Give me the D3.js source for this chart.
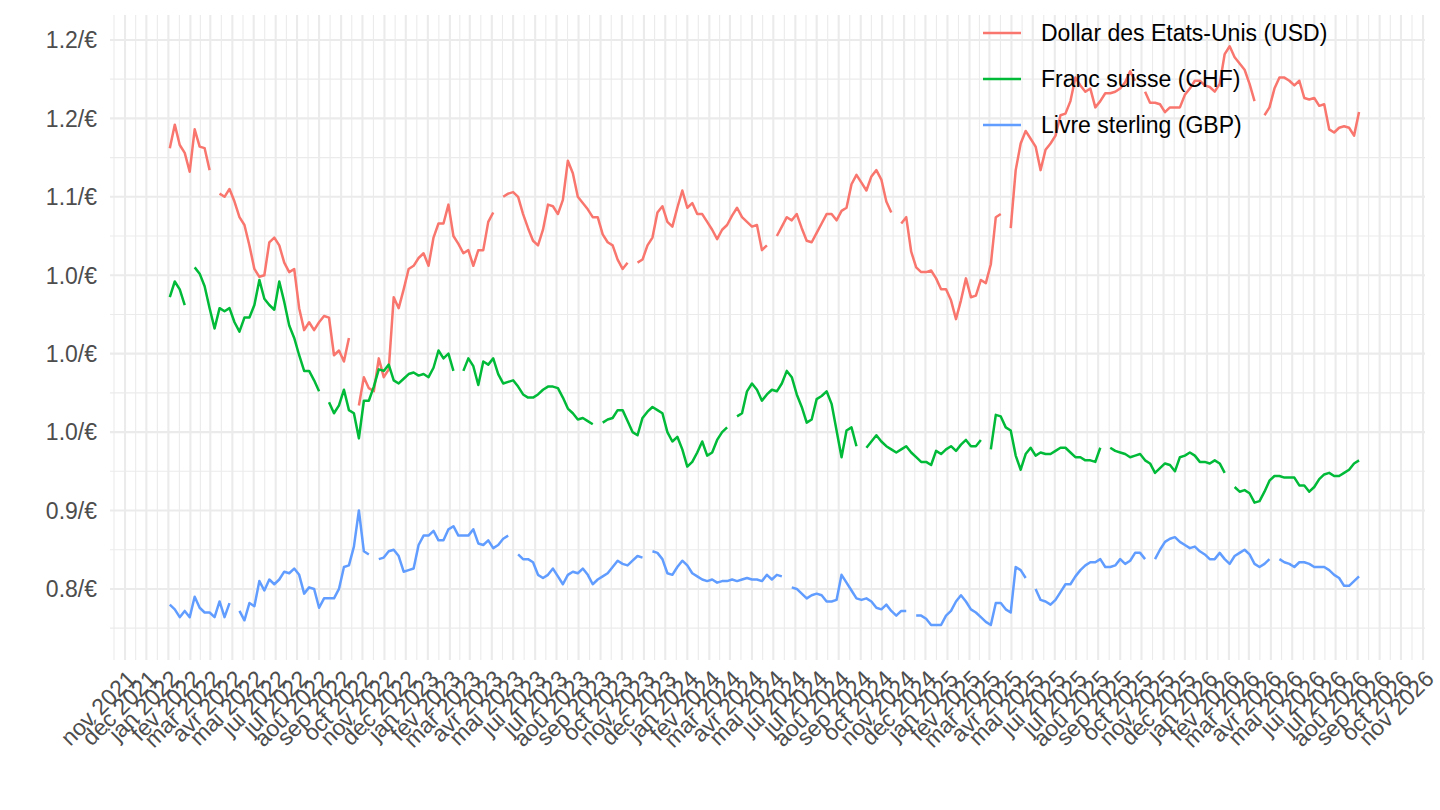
<!DOCTYPE html>
<html><head><meta charset="utf-8">
<script src="https://cdn.jsdelivr.net/npm/d3@7"></script>
<style>body{margin:0;background:#fff} svg{display:block}</style>
</head><body>
<svg id="chart" width="1440" height="810"></svg>
<script>
const seriesNames = ["Dollar des Etats-Unis (USD)", "Franc suisse (CHF)", "Livre sterling (GBP)"];
const seriesColors = ["#F8766D", "#00BA38", "#619CFF"];
const monthAbbr = ["jan","fév","mar","avr","mai","jui","jul","aoû","sep","oct","nov","déc"];
const yTicks = [0.85, 0.90, 0.95, 1.00, 1.05, 1.10, 1.15, 1.20];
const yTickLabels = ["0.8/€","0.9/€","1.0/€","1.0/€","1.0/€","1.1/€","1.2/€","1.2/€"];
const yDomain = [0.8047, 1.2159];
const xDomain = [new Date(2021, 9, 10, 21), new Date(2026, 10, 3, 19)];
const firstWeek = new Date(2022, 0, 3);

// weekly values (one per Monday from 3 Jan 2022), null = no quotation
const usd = [
1.131,1.146,1.133,1.128,1.116,1.143,1.132,1.131,1.117,null,
1.102,1.100,1.105,1.097,1.087,1.082,1.069,1.054,1.049,1.050,
1.071,1.074,1.069,1.058,1.052,1.054,1.029,1.015,1.020,1.015,
1.020,1.024,1.023,0.999,1.002,0.995,1.010,null,0.967,0.985,
0.978,0.976,0.997,0.985,0.990,1.036,1.029,1.041,1.054,1.056,
1.061,1.064,1.056,1.074,1.083,1.083,1.095,1.075,1.070,1.064,
1.066,1.056,1.066,1.066,1.084,1.090,null,1.100,1.102,1.103,
1.100,1.089,1.080,1.072,1.069,1.079,1.095,1.094,1.089,1.098,
1.123,1.115,1.100,1.096,1.092,1.087,1.087,1.076,1.071,1.069,
1.060,1.054,1.058,null,1.058,1.060,1.069,1.074,1.090,1.094,
1.084,1.081,1.093,1.104,1.093,1.096,1.089,1.089,1.084,1.079,
1.073,1.079,1.082,1.088,1.093,1.087,1.084,1.081,1.082,1.066,
1.069,null,1.075,1.081,1.087,1.085,1.089,1.080,1.072,1.071,
1.077,1.083,1.089,1.089,1.085,1.091,1.093,1.108,1.114,1.109,
1.104,1.113,1.117,1.111,1.097,1.090,null,1.083,1.087,1.065,
1.055,1.052,1.052,1.053,1.048,1.041,1.041,1.034,1.022,1.034,
1.048,1.036,1.037,1.047,1.045,1.057,1.087,1.089,null,1.080,
1.117,1.134,1.142,1.137,1.132,1.117,1.130,1.134,1.139,1.152,
1.153,1.161,1.176,1.171,1.167,1.169,1.157,1.161,1.166,1.166,
1.167,1.169,1.173,1.180,1.174,null,1.167,1.160,1.160,1.159,
1.154,1.157,1.157,1.157,1.165,1.169,1.174,1.174,1.171,1.170,
1.167,1.172,1.191,1.196,1.189,1.185,1.181,1.172,1.161,null,
1.152,1.157,1.169,1.176,1.176,1.174,1.171,1.174,1.163,1.162,
1.163,1.158,1.159,1.143,1.141,1.144,1.145,1.144,1.139,1.154
];
const chf = [
1.036,1.046,1.041,1.031,null,1.055,1.051,1.043,1.029,1.016,
1.029,1.027,1.029,1.020,1.014,1.023,1.023,1.031,1.047,1.035,
1.031,1.028,1.046,1.033,1.018,1.010,0.999,0.989,0.989,0.983,
0.976,null,0.969,0.962,0.967,0.977,0.964,0.962,0.946,0.970,
0.970,0.979,0.990,0.989,0.993,0.983,0.981,0.984,0.987,0.988,
0.986,0.987,0.985,0.991,1.002,0.997,1.000,0.989,null,0.989,
0.997,0.992,0.980,0.995,0.993,0.997,0.987,0.981,0.982,0.983,
0.979,0.974,0.972,0.972,0.974,0.977,0.979,0.979,0.978,0.972,
0.965,0.962,0.958,0.959,0.957,0.955,null,0.956,0.958,0.959,
0.964,0.964,0.957,0.950,0.948,0.959,0.963,0.966,0.964,0.962,
0.950,0.944,0.947,0.939,0.928,0.931,0.937,0.944,0.935,0.937,
0.945,0.950,0.953,null,0.960,0.962,0.976,0.981,0.977,0.970,
0.974,0.977,0.976,0.981,0.989,0.985,0.974,0.966,0.956,0.958,
0.971,0.973,0.976,0.968,0.951,0.934,0.951,0.953,0.941,null,
0.940,0.944,0.948,0.944,0.941,0.939,0.937,0.939,0.941,0.937,
0.934,0.931,0.931,0.929,0.938,0.936,0.939,0.941,0.938,0.942,
0.945,0.941,0.941,0.945,null,0.939,0.961,0.960,0.953,0.951,
0.935,0.926,0.936,0.940,0.935,0.937,0.936,0.936,0.938,0.940,
0.940,0.937,0.934,0.934,0.932,0.932,0.931,0.940,null,0.940,
0.938,0.937,0.936,0.934,0.935,0.936,0.932,0.930,0.924,0.927,
0.930,0.929,0.925,0.934,0.935,0.937,0.935,0.931,0.931,0.930,
0.932,0.930,0.924,null,0.915,0.912,0.913,0.911,0.905,0.906,
0.912,0.919,0.922,0.922,0.921,0.921,0.921,0.916,0.916,0.912,
0.915,0.920,0.923,0.924,0.922,0.922,0.924,0.926,0.930,0.932
];
const gbp = [
0.840,0.837,0.832,0.836,0.832,0.845,0.838,0.835,0.835,0.832,
0.842,0.832,0.841,null,0.836,0.830,0.841,0.839,0.855,0.849,
0.856,0.853,0.856,0.861,0.860,0.863,0.859,0.847,0.851,0.850,
0.838,0.844,0.844,0.844,0.850,0.864,0.865,0.877,0.900,0.874,
0.872,null,0.869,0.870,0.874,0.875,0.871,0.861,0.862,0.863,
0.878,0.884,0.884,0.887,0.881,0.881,0.888,0.890,0.884,0.884,
0.884,0.888,0.879,0.878,0.881,0.876,0.878,0.882,0.884,null,
0.872,0.869,0.869,0.867,0.859,0.857,0.859,0.863,0.858,0.853,
0.859,0.861,0.860,0.863,0.859,0.853,0.856,0.858,0.860,0.864,
0.868,0.866,0.865,0.868,0.871,0.870,null,0.874,0.873,0.869,
0.860,0.859,0.864,0.868,0.865,0.860,0.858,0.856,0.855,0.856,
0.854,0.855,0.855,0.856,0.855,0.856,0.857,0.856,0.856,0.855,
0.859,0.856,0.859,0.858,null,0.851,0.850,0.847,0.844,0.846,
0.847,0.846,0.842,0.842,0.843,0.859,0.854,0.849,0.844,0.843,
0.844,0.842,0.838,0.837,0.840,0.836,0.833,0.836,0.836,null,
0.833,0.833,0.831,0.827,0.827,0.827,0.833,0.836,0.842,0.846,
0.842,0.837,0.835,0.832,0.829,0.827,0.841,0.841,0.837,0.835,
0.864,0.862,0.857,null,0.850,0.843,0.842,0.840,0.843,0.848,
0.853,0.853,0.858,0.862,0.865,0.867,0.867,0.869,0.864,0.864,
0.865,0.869,0.866,0.868,0.873,0.873,0.869,null,0.869,0.875,
0.880,0.882,0.883,0.880,0.878,0.876,0.877,0.874,0.872,0.869,
0.869,0.873,0.869,0.866,0.871,0.873,0.875,0.872,0.866,0.864,
0.866,0.869,null,0.869,0.867,0.866,0.864,0.867,0.867,0.866,
0.864,0.864,0.864,0.862,0.859,0.857,0.852,0.852,0.855,0.858
];
const seriesValues = [usd, chf, gbp];

const dates = d3.timeMonday.range(firstWeek, d3.timeDay.offset(firstWeek, 7 * usd.length));

const L = 110, R = 1425, T = 15, B = 660;
const svg = d3.select("#chart");
const font = "'Liberation Sans', Arial, Helvetica, sans-serif";

const x = d3.scaleTime().domain(xDomain).range([L, R]);
const y = d3.scaleLinear().domain(yDomain).range([B, T]);

// grid
const grid = svg.append("g");
const minorY = [yTicks[0] - 0.025, ...yTicks.map(v => v + 0.025)].filter(v => v > yDomain[0] && v < yDomain[1]);
const monthTicks = d3.timeMonth.range(x.domain()[0], x.domain()[1]);
const allMonths = d3.timeMonth.range(d3.timeMonth.offset(monthTicks[0], -1), d3.timeMonth.offset(monthTicks[monthTicks.length - 1], 2));
const minorX = allMonths.slice(0, -1).map((m, i) => new Date((+m + +allMonths[i + 1]) / 2))
  .filter(d => d > x.domain()[0] && d < x.domain()[1]);

grid.append("g").selectAll("line").data(minorY).join("line")
  .attr("x1", L).attr("x2", R).attr("y1", d => y(d)).attr("y2", d => y(d))
  .attr("stroke", "#ebebeb").attr("stroke-width", 1.1);
grid.append("g").selectAll("line").data(minorX).join("line")
  .attr("y1", T).attr("y2", B).attr("x1", d => x(d)).attr("x2", d => x(d))
  .attr("stroke", "#ebebeb").attr("stroke-width", 1.1);
grid.append("g").selectAll("line").data(yTicks).join("line")
  .attr("x1", L).attr("x2", R).attr("y1", d => y(d)).attr("y2", d => y(d))
  .attr("stroke", "#ebebeb").attr("stroke-width", 2.1);
grid.append("g").selectAll("line").data(monthTicks).join("line")
  .attr("y1", T).attr("y2", B).attr("x1", d => x(d)).attr("x2", d => x(d))
  .attr("stroke", "#ebebeb").attr("stroke-width", 2.1);

// y axis labels
svg.append("g").selectAll("text").data(yTicks).join("text")
  .attr("x", 97).attr("y", d => y(d)).attr("dy", "0.36em")
  .attr("text-anchor", "end").attr("font-family", font).attr("font-size", 23)
  .attr("fill", "#4d4d4d").text((d, i) => yTickLabels[i]);

// x axis labels
svg.append("g").selectAll("text").data(monthTicks).join("text")
  .attr("transform", d => `translate(${x(d)},${B + 8}) rotate(-45)`)
  .attr("dy", "0.75em").attr("text-anchor", "end")
  .attr("font-family", font).attr("font-size", 23).attr("fill", "#4d4d4d")
  .text(d => monthAbbr[d.getMonth()] + " " + d.getFullYear());

// lines
const line = d3.line().defined(d => d.v != null).x(d => x(d.date)).y(d => y(d.v));
seriesValues.forEach((vals, k) => {
  const pts = dates.map((date, i) => ({date, v: vals[i]}));
  svg.append("path").datum(pts).attr("d", line)
    .attr("fill", "none").attr("stroke", seriesColors[k]).attr("stroke-width", 2.5)
    .attr("stroke-linejoin", "round").attr("stroke-linecap", "butt");
});

// legend
const lg = svg.append("g");
seriesNames.forEach((name, k) => {
  const cy = 33 + k * 46;
  lg.append("line").attr("x1", 983).attr("x2", 1021).attr("y1", cy).attr("y2", cy)
    .attr("stroke", seriesColors[k]).attr("stroke-width", 2.5);
  lg.append("text").attr("x", 1041).attr("y", cy).attr("dy", "0.36em")
    .attr("font-family", font).attr("font-size", 23).attr("fill", "#000").text(name);
});
</script>
</body></html>
